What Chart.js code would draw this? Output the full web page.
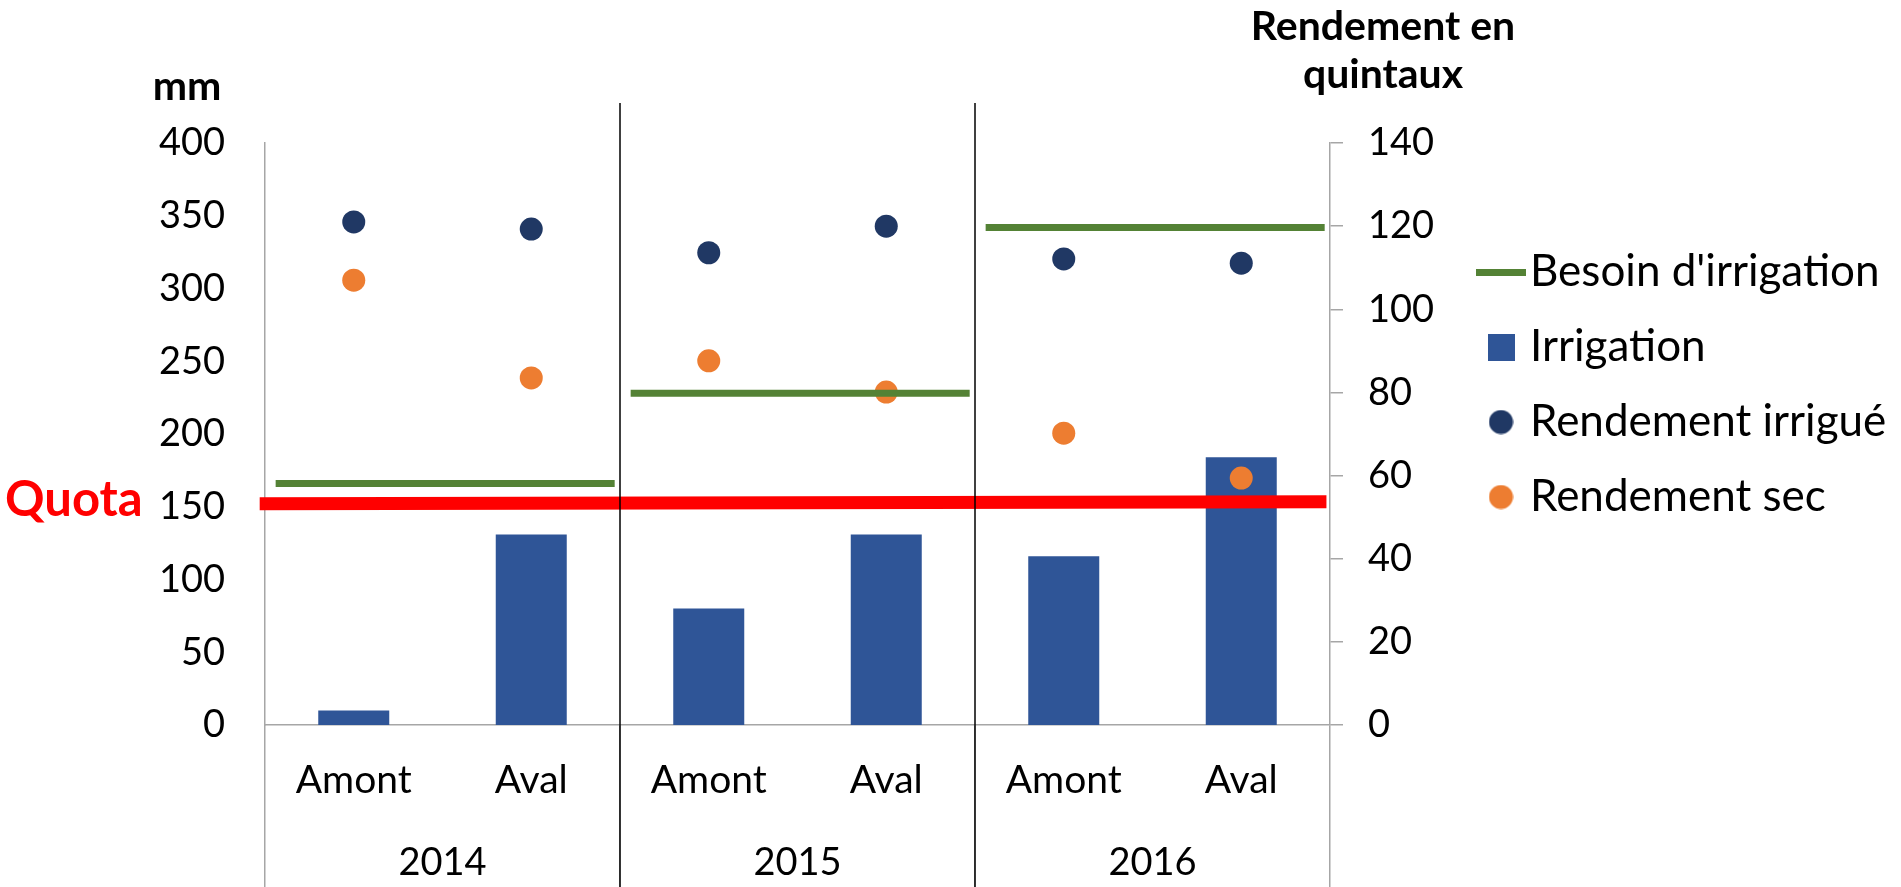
<!DOCTYPE html>
<html>
<head>
<meta charset="utf-8">
<script src="https://cdn.jsdelivr.net/npm/chart.js@4.4.1/dist/chart.umd.min.js"></script>
<style>
  html, body { margin: 0; padding: 0; background: #fff; }
  #wrap { width: 1901px; height: 887px; position: relative; }
</style>
</head>
<body>
<div id="wrap"><canvas id="myChart"></canvas></div>
<script>
// données
var categories = ['Amont', 'Aval', 'Amont', 'Aval', 'Amont', 'Aval'];
var annees = ['2014', '2015', '2016'];
var irrigation = [10, 131, 80, 131, 116, 184];            // mm
var besoin = [166, 228, 342];                              // mm, un par année
var rendementIrrigue = [121, 119.3, 113.6, 120, 112.1, 111.1]; // quintaux
var rendementSec = [107, 83.5, 87.6, 80.1, 70.2, 59.4];        // quintaux
var quota = [152, 153.5];                                   // mm, début et fin du trait
var maxMm = 400, pasMm = 50;
var maxQx = 140, pasQx = 20;

var VERT = '#548235', BLEU = '#2F5597', MARINE = '#203864', ORANGE = '#ED7D31', ROUGE = '#FF0000';
var GRIS = '#A6A6A6';

// segments du besoin, un par année (axe linéaire caché 0..6)
var besoinPoints = [];
for (var i = 0; i < besoin.length; i++) {
    besoinPoints.push({ x: 2 * i + 0.06, y: besoin[i] });
    besoinPoints.push({ x: 2 * i + 1.97, y: besoin[i] });
    besoinPoints.push({ x: 2 * i + 1.98, y: null });
}
var quotaPoints = [{ x: -0.03, y: quota[0] }, { x: categories.length - 0.02, y: quota[1] }];

function marqueur(forme, couleur) {
    var c = document.createElement('canvas');
    var ctx;
    if (forme == 'ligne') {
        c.width = 50; c.height = 7;
        ctx = c.getContext('2d');
        ctx.fillStyle = couleur;
        ctx.fillRect(0, 0, 50, 7);
    } else if (forme == 'carre') {
        c.width = 27; c.height = 27;
        ctx = c.getContext('2d');
        ctx.fillStyle = couleur;
        ctx.fillRect(0, 0, 27, 27);
    } else {
        c.width = 25; c.height = 25;
        ctx = c.getContext('2d');
        ctx.fillStyle = couleur;
        ctx.beginPath();
        ctx.arc(12.5, 12.5, 12, 0, Math.PI * 2);
        ctx.fill();
    }
    return c;
}
var marqueurs = [marqueur('ligne', VERT), marqueur('carre', BLEU), marqueur('rond', MARINE), marqueur('rond', ORANGE)];

var decor = {
    id: 'decor',
    afterLayout: function (chart) {
        chart.legend.left = chart.chartArea.right + 133;
        chart.legend.right = chart.width;
        chart.legend.width = chart.legend.right - chart.legend.left;
    },
    afterDatasetsDraw: function (chart) {
        var ctx = chart.ctx;
        var xl = chart.scales.xl;
        ctx.save();
        ctx.strokeStyle = '#000';
        ctx.lineWidth = 1.5;
        for (var i = 1; i < annees.length; i++) {
            var px = xl.getPixelForValue(2 * i);
            ctx.beginPath();
            ctx.moveTo(px, chart.chartArea.top - 40);
            ctx.lineTo(px, chart.height);
            ctx.stroke();
        }
        ctx.restore();
    },
    afterDraw: function (chart) {
        var ctx = chart.ctx;
        var y = chart.scales.y, y1 = chart.scales.y1;
        var top = chart.chartArea.top;
        ctx.save();
        ctx.fillStyle = '#000';
        ctx.textAlign = 'center';
        ctx.textBaseline = 'middle';
        ctx.font = 'bold 41px Lato';
        ctx.fillText('mm', y.right - 78, top - 56);
        ctx.fillText('Rendement en', y1.left + 53, top - 116);
        ctx.fillText('quintaux', y1.left + 53, top - 68);
        ctx.font = 'bold 49px Lato';
        ctx.fillStyle = ROUGE;
        ctx.textAlign = 'left';
        ctx.fillText('Quota', 5, y.getPixelForValue(quota[0]) - 4);
        ctx.restore();
    }
};

var config = {
    type: 'bar',
    data: {
        labels: categories,
        datasets: [
            {
                type: 'line', label: "Besoin d'irrigation", data: besoinPoints,
                xAxisID: 'xl', yAxisID: 'y',
                borderColor: VERT, backgroundColor: VERT, borderWidth: 7, borderCapStyle: 'butt',
                pointRadius: 0, spanGaps: false, order: 1
            },
            {
                type: 'bar', label: 'Irrigation', data: irrigation,
                xAxisID: 'x', yAxisID: 'y', grouped: false,
                backgroundColor: BLEU, barPercentage: 0.4, categoryPercentage: 1, order: 4
            },
            {
                type: 'line', label: 'Rendement irrigué', data: rendementIrrigue,
                xAxisID: 'x', yAxisID: 'y1', showLine: false,
                pointRadius: 11.5, pointBorderWidth: 0,
                pointBackgroundColor: MARINE, backgroundColor: MARINE, borderColor: MARINE, order: 2
            },
            {
                type: 'line', label: 'Rendement sec', data: rendementSec,
                xAxisID: 'x', yAxisID: 'y1', showLine: false,
                pointRadius: 11.5, pointBorderWidth: 0,
                pointBackgroundColor: ORANGE, backgroundColor: ORANGE, borderColor: ORANGE, order: 3
            },
            {
                type: 'line', label: 'Quota', data: quotaPoints,
                xAxisID: 'xl', yAxisID: 'y',
                borderColor: ROUGE, backgroundColor: ROUGE, borderWidth: 13, borderCapStyle: 'butt',
                pointRadius: 0, clip: false, order: 0
            }
        ]
    },
    options: {
        responsive: true,
        maintainAspectRatio: false,
        animation: false,
        layout: { padding: { top: 143, right: 0, bottom: 0, left: 0 } },
        plugins: {
            tooltip: { enabled: false },
            legend: {
                position: 'right',
                align: 'start',
                title: { display: true, text: ' ', font: { size: 10 }, padding: { top: 0, bottom: 64 } },
                labels: {
                    usePointStyle: true,
                    boxWidth: 14,
                    padding: 31,
                    color: '#000',
                    font: { family: 'Lato', size: 44 },
                    filter: function (item) { return item.text != 'Quota'; },
                    sort: function (a, b) { return a.datasetIndex - b.datasetIndex; },
                    generateLabels: function (chart) {
                        var items = Chart.defaults.plugins.legend.labels.generateLabels(chart);
                        items.forEach(function (it) { it.pointStyle = marqueurs[it.datasetIndex]; });
                        return items;
                    }
                }
            }
        },
        scales: {
            x: {
                type: 'category',
                position: 'bottom',
                offset: true,
                grid: {
                    display: true, offset: true, drawOnChartArea: false, drawTicks: true, tickLength: 95,
                    lineWidth: 1.5,
                    color: function (c) { return (c.index === undefined || c.index % 2 === 0) ? GRIS : 'rgba(0,0,0,0)'; }
                },
                border: { display: true, color: GRIS, width: 1.5 },
                ticks: { color: '#000', font: { family: 'Lato', size: 39 }, padding: -63, autoSkip: false, maxRotation: 0 },
                afterFit: function (s) { s.height = 95; }
            },
            x2: {
                type: 'category',
                position: 'bottom',
                labels: annees,
                offset: true,
                grid: { display: true, offset: true, drawOnChartArea: false, drawTicks: true, tickLength: 67, color: GRIS, lineWidth: 1.5 },
                border: { display: false },
                ticks: { color: '#000', font: { family: 'Lato', size: 38 }, padding: -47, autoSkip: false, maxRotation: 0 },
                afterFit: function (s) { s.height = 67; }
            },
            xl: {
                type: 'linear',
                position: 'bottom',
                display: false,
                offset: false,
                grid: { offset: false },
                min: 0,
                max: categories.length
            },
            y: {
                position: 'left',
                min: 0, max: maxMm,
                grid: { display: false, drawTicks: false },
                border: { display: true, color: GRIS, width: 1.5 },
                ticks: { stepSize: pasMm, color: '#000', font: { family: 'Lato', size: 38 }, padding: 40 },
                afterFit: function (s) { s.width = 265; }
            },
            y1: {
                position: 'right',
                min: 0, max: maxQx,
                grid: { display: true, drawOnChartArea: false, drawTicks: true, tickLength: 13, color: GRIS, lineWidth: 1.5 },
                border: { display: true, color: GRIS, width: 1.5 },
                ticks: { stepSize: pasQx, color: '#000', font: { family: 'Lato', size: 38 }, padding: 25 },
                afterFit: function (s) { s.width = s.chart.width - 1330 - (s.chart.legend ? s.chart.legend.width : 0); }
            }
        }
    },
    plugins: [decor]
};

var myChart = new Chart(document.getElementById('myChart'), config);
</script>
</body>
</html>
